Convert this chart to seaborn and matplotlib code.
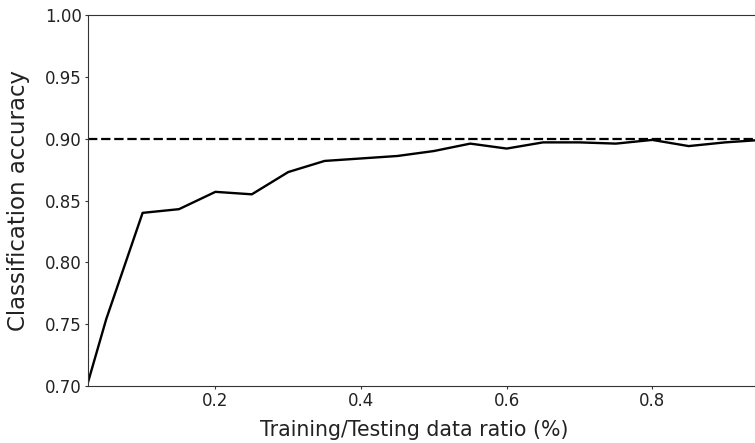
import matplotlib
matplotlib.use("Agg")
import matplotlib.pyplot as plt
import seaborn as sns
import pandas as pd

ratios = [0.025, 0.05, 0.10, 0.15, 0.20, 0.25, 0.30, 0.35, 0.40, 0.45, 0.50,
          0.55, 0.60, 0.65, 0.70, 0.75, 0.80, 0.85, 0.90, 0.95]
accuracy = [0.703, 0.754, 0.840, 0.843, 0.857, 0.855, 0.873, 0.882, 0.884, 0.886, 0.890,
            0.896, 0.892, 0.897, 0.897, 0.896, 0.899, 0.894, 0.897, 0.899]
baseline = 0.90
x_ticks = [0.2, 0.4, 0.6, 0.8]
y_ticks = [0.70, 0.75, 0.80, 0.85, 0.90, 0.95, 1.00]

df = pd.DataFrame({"ratio": ratios, "accuracy": accuracy})

sns.set_style("ticks")
plt.rcParams["font.family"] = ["DejaVu Sans"]

fig = plt.figure(figsize=(7.55, 4.43), dpi=100)
W, H = 755, 443
left_px, right_px, top_px, bottom_px = 88, 761.5, 15, 386
ax = fig.add_axes([left_px / W, 1 - bottom_px / H, (right_px - left_px) / W, (bottom_px - top_px) / H])

sns.lineplot(data=df, x="ratio", y="accuracy", ax=ax, color="black", linewidth=1.7)
ax.axhline(baseline, color="black", linestyle=(0, (4.2, 1.7)), linewidth=1.6)

ax.set_xlim(ratios[0], ratios[-1])
ax.set_ylim(0.70, 1.00)
ax.set_xticks(x_ticks)
ax.set_xticklabels([f"{t:.1f}" for t in x_ticks])
ax.set_yticks(y_ticks)
ax.set_yticklabels([f"{t:.2f}" for t in y_ticks])
ax.tick_params(labelsize=12, length=2, width=0.8, pad=2.5, color="#333333", labelcolor="#222222")
ax.set_xlabel("Training/Testing data ratio (%)", fontsize=14.8, color="#222222")
ax.set_ylabel("Classification accuracy", fontsize=16.5, color="#222222")
ax.xaxis.set_label_coords((414 - left_px) / (right_px - left_px), -(430 - bottom_px) / (bottom_px - top_px))
ax.xaxis.label.set_va("center")
ax.yaxis.set_label_coords(-(left_px - 19) / (right_px - left_px), 0.5)
ax.yaxis.label.set_va("center")
for s in ax.spines.values():
    s.set_color("#333333")
    s.set_linewidth(0.8)

fig.savefig("out.png", dpi=100)
